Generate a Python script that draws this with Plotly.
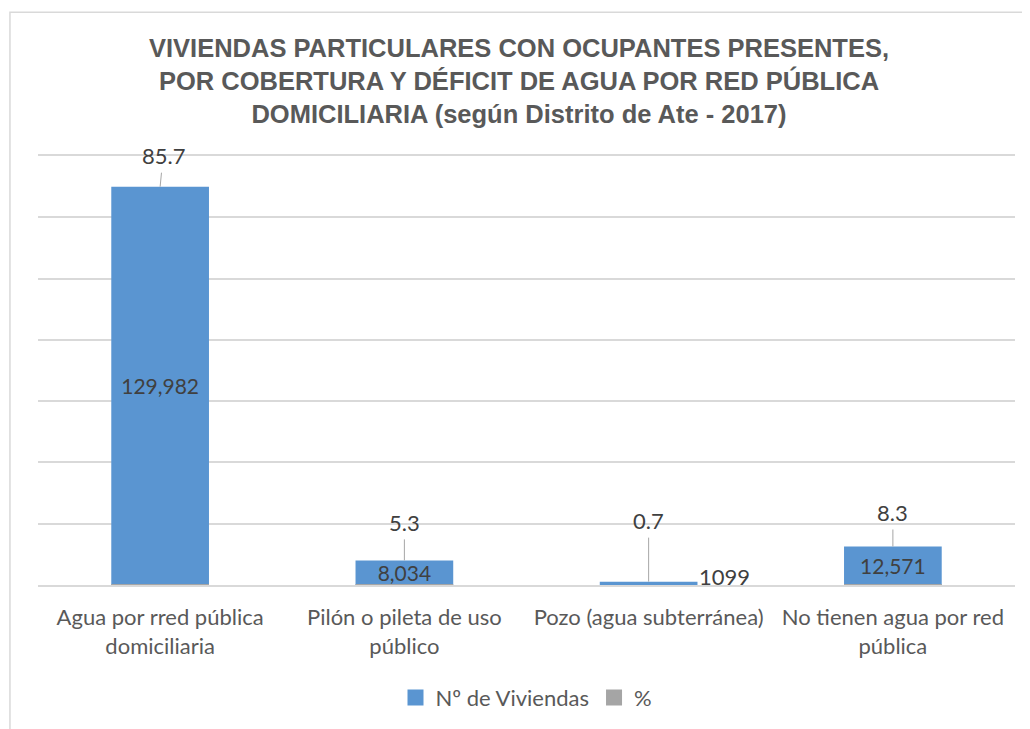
import plotly.graph_objects as go

categories = ["Agua por rred pública<br>domiciliaria", "Pilón o pileta de uso<br>público",
              "Pozo (agua subterránea)", "No tienen agua por red<br>pública"]
viviendas = [129982, 8034, 1099, 12571]
porcentaje = [85.7, 5.3, 0.7, 8.3]
inside_label = [True, True, False, True]

# pixel offsets of the % labels (leader lines)
pct_ax = [3, 0, 0, 0]
pct_ay = [-31, -38, -61, -34]

TXT = "#404040"
BLUE = "#5A95D1"
GRAY = "#A5A5A5"
fig = go.Figure()
fig.add_trace(go.Bar(
    x=categories, y=viviendas, name="Nº de Viviendas", showlegend=False,
    marker=dict(color=BLUE, line=dict(width=0)),
    text=[f"{v:,}" if ins else "" for v, ins in zip(viviendas, inside_label)],
    textposition="inside", insidetextanchor="middle", constraintext="none",
    textfont=dict(family="Lato", size=21, color=TXT),
    width=0.4,
))
fig.add_trace(go.Bar(
    x=categories, y=porcentaje, name="%", showlegend=False,
    marker=dict(color=GRAY, line=dict(width=0)),
    width=0.4, textposition="none",
))
# legend entries (square swatches)
for nm, col in [("Nº de Viviendas", BLUE), ("%", GRAY)]:
    fig.add_trace(go.Scatter(x=[None], y=[None], mode="markers", name=nm,
                             marker=dict(symbol="square", size=16, color=col)))

for c, v, p, ax, ay in zip(categories, viviendas, porcentaje, pct_ax, pct_ay):
    fig.add_annotation(x=c, y=v, text=f"{p}", showarrow=True, arrowhead=0,
                       arrowwidth=1, arrowcolor="#A6A6A6", ax=ax, ay=ay,
                       font=dict(family="Lato", size=22, color=TXT), borderpad=3)
for c, v, ins in zip(categories, viviendas, inside_label):
    if not ins:
        fig.add_annotation(x=c, y=v, text=str(v), showarrow=False, xanchor="left",
                           yanchor="middle", xshift=48, yshift=5,
                           font=dict(family="Lato", size=22, color=TXT))

# chart border
fig.add_shape(type="rect", xref="paper", yref="paper", x0=-0.0287, x1=1.05,
              y0=-0.4, y1=1.335, line=dict(color="#D9D9D9", width=1.5),
              fillcolor="rgba(0,0,0,0)", layer="below")

fig.update_layout(
    width=1022, height=721,
    paper_bgcolor="white", plot_bgcolor="white",
    margin=dict(l=30, r=15, t=148, b=143),
    barmode="overlay",
    title=dict(text="VIVIENDAS PARTICULARES CON OCUPANTES PRESENTES,<br>POR COBERTURA Y DÉFICIT DE AGUA POR RED PÚBLICA<br>DOMICILIARIA (según Distrito de Ate - 2017)",
               x=0.5, xanchor="center", y=0.932, yanchor="top",
               font=dict(family="Liberation Sans", size=25.5, color="#595959", weight="bold")),
    xaxis=dict(showgrid=False, showline=True, mirror=True, linecolor="#D9D9D9", linewidth=1.5,
               ticks="", ticklabelstandoff=12,
               tickfont=dict(family="Lato", size=22, color="#595959")),
    yaxis=dict(range=[0, 140001], dtick=20000, showgrid=True, gridcolor="#D9D9D9",
               gridwidth=1.5, showticklabels=False, zeroline=False, ticks=""),
    legend=dict(orientation="h", x=0.5, xanchor="center", y=-0.26, yanchor="middle",
                itemsizing="trace",
                font=dict(family="Lato", size=22, color="#595959")),
    showlegend=True,
)
fig.write_html("out.html")
